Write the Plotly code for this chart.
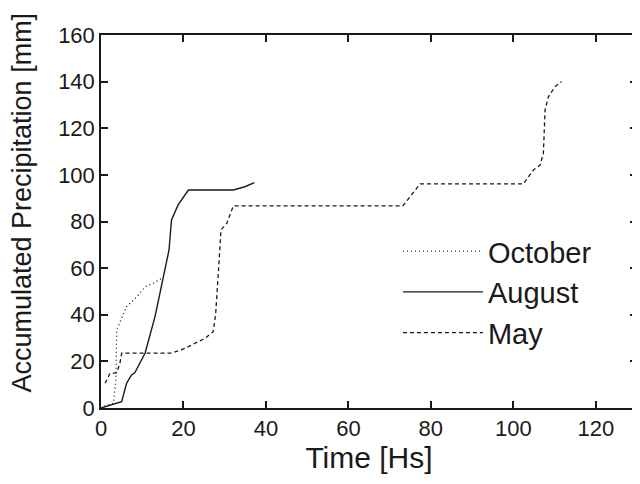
import plotly.graph_objects as go

# October (dotted)
oct_x = [0, 1.0, 3.0, 3.6, 3.8, 4.0, 4.9, 6.2, 8.7, 10.7, 12.7, 14.7]
oct_y = [0, 0.9, 2.0, 12.0, 33.5, 34.3, 38.6, 43.5, 47.7, 52.0, 53.5, 55.6]

# August (solid)
aug_x = [0, 1.0, 5.0, 6.2, 7.4, 8.2, 10.7, 13.1, 14.7, 16.5, 17.1, 18.7, 21.2, 32.1, 34.9, 37.2]
aug_y = [0, 0.6, 2.7, 10.6, 14.2, 15.1, 23.6, 39.2, 52.0, 67.8, 80.7, 87.1, 93.5, 93.5, 94.9, 96.7]

# May (dashed)
may_x = [1.0, 2.2, 3.8, 4.6, 5.0, 17.1, 20.4, 25.2, 27.2, 27.8, 28.5, 29.1, 30.5, 32.1,
         73.2, 77.4, 102.4, 103.6, 104.9, 106.5, 107.3, 107.7, 108.5, 110.1, 111.7]
may_y = [10.6, 14.9, 15.1, 19.2, 23.5, 23.5, 25.6, 29.9, 32.7, 40.0, 59.2, 76.4, 79.2, 86.7,
         86.7, 96.1, 96.1, 99.2, 102.1, 104.2, 109.3, 127.8, 133.5, 137.8, 140.0]

x_ticks = [0, 20, 40, 60, 80, 100, 120]
y_ticks = [0, 20, 40, 60, 80, 100, 120, 140, 160]

FONT = "Arial, Liberation Sans, sans-serif"
ink = "#1a1a1a"

fig = go.Figure()
fig.add_trace(go.Scatter(x=oct_x, y=oct_y, mode="lines", name="October",
                         legendgroup="a",
                         line=dict(color=ink, width=1.3, dash="1px,3px")))
fig.add_trace(go.Scatter(x=aug_x, y=aug_y, mode="lines", name="August",
                         legendgroup="b",
                         line=dict(color=ink, width=1.4)))
fig.add_trace(go.Scatter(x=may_x, y=may_y, mode="lines", name="May",
                         legendgroup="c",
                         line=dict(color=ink, width=1.3, dash="4px,3px")))

axis_common = dict(
    showgrid=False, zeroline=False, showline=True, linecolor=ink, linewidth=1.5,
    mirror="allticks", ticks="inside", ticklen=7, tickwidth=1.5, tickcolor=ink,
    tickfont=dict(family=FONT, size=22, color=ink), automargin=False,
)

fig.update_layout(
    width=632, height=476,
    margin=dict(l=93, r=3, t=27, b=76),
    paper_bgcolor="white", plot_bgcolor="white",
    font=dict(family=FONT, color=ink),
    xaxis=dict(range=[0, 130], tickvals=x_ticks, ticktext=[str(v) for v in x_ticks],
               title=dict(text="Time [Hs]", font=dict(family=FONT, size=30, color=ink), standoff=4),
               **axis_common),
    yaxis=dict(range=[0, 160], tickvals=y_ticks, ticktext=[str(v) for v in y_ticks],
               **axis_common),
    annotations=[dict(text="Accumulated Precipitation [mm]", xref="paper", yref="paper",
                      x=-0.148, y=0.55, xanchor="center", yanchor="middle", textangle=-90,
                      showarrow=False, font=dict(family=FONT, size=27, color=ink))],
    legend=dict(x=0.554, y=0.31, xanchor="left", yanchor="middle",
                bgcolor="rgba(0,0,0,0)", font=dict(family=FONT, size=29, color=ink),
                itemwidth=80, tracegroupgap=0),
    showlegend=True,
)

fig.write_html("out.html")
